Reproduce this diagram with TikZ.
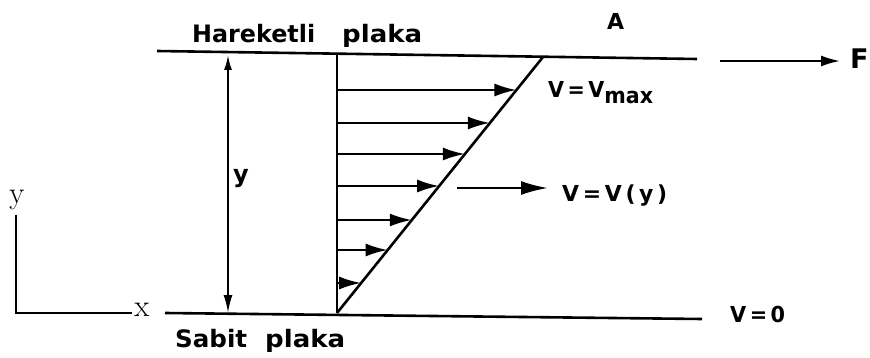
\documentclass[tikz,border=0pt]{standalone}
\usepackage{fontspec}
\usepackage{graphicx}
\usetikzlibrary{arrows.meta,calc}
\newfontfamily\labfont{DejaVu Sans}
\newcommand{\fitw}[2]{\resizebox{#1}{\height}{#2}}
\begin{document}
\begin{tikzpicture}[x=1pt,y=-1pt,
  plate/.style={line width=2.6pt},
  vel/.style={line width=2.3pt,-{Latex[length=22pt,width=13pt]}},
  lab/.style={font=\labfont\bfseries\fontsize{22}{26}\selectfont,inner sep=0pt,anchor=base west},
  biglab/.style={font=\labfont\bfseries\fontsize{24}{28}\selectfont,inner sep=0pt,anchor=base west},
  axlab/.style={font=\fontsize{31}{34}\selectfont,inner sep=0pt}]
\useasboundingbox (0,0) rectangle (870,358);
% plates and profile
\coordinate (TL) at (157,51);
\coordinate (TR) at (697,59);
\coordinate (BL) at (165,313);
\coordinate (BR) at (702,319);
\coordinate (W0) at (337,313);
\coordinate (W1) at (337,55);
\coordinate (D1) at (543,57);
\draw[plate] (TL) -- (TR);
\draw[plate] (BL) -- (BR);
\draw[plate] (W0) -- (W1);
\draw[plate] (W0) -- (D1);
% velocity arrows
\foreach \i/\yy in {1/90,2/123,3/154,4/186,5/220,6/250,7/283}{
  \coordinate (s\i) at (338,\yy);
  \coordinate (e\i) at ($(W0)!{(313-\yy)/256}!(D1)$);
  \draw[vel] (s\i) -- (e\i);
}
% free arrow V(y)
\coordinate (fa0) at (457,188);
\coordinate (fa1) at (548,188);
\draw[line width=2.3pt,-{Latex[length=27pt,width=14pt]}] (fa0) -- (fa1);
% force arrow
\coordinate (f0) at (720,61);
\node[biglab,font=\labfont\bfseries\fontsize{27}{30}\selectfont] (Fn) at (850,69) {F};
\coordinate (f1) at (840,61);
\draw[line width=2pt,-{Latex[length=19pt,width=11pt]}] (f0) -- (f1);
% gap y arrow
\coordinate (ya) at (228,55);
\coordinate (yb) at (228,313);
\draw[line width=2pt,{Latex[length=15pt,width=8pt]}-{Latex[length=18pt,width=9pt]}] (ya) -- (yb);
\node[biglab] (ylab) at (233,183) {y};
% axes
\coordinate (ay) at (16,215);
\coordinate (ao) at (16,313);
\coordinate (ax) at (132,313);
\draw[line width=2pt] (ay) -- (ao) -- (ax);
\node[axlab] (axy) at (17,200) {y};
\node[axlab] (axx) at (142,310) {x};
% labels
\node[biglab] (hk) at (192,43) {\fitw{123pt}{Hareketli}};
\node[biglab] (pk) at (342,43) {\fitw{80pt}{plaka}};
\node[biglab] (sb) at (175,347) {\fitw{72pt}{Sabit}};
\node[biglab] (sp) at (265,347) {\fitw{80pt}{plaka}};
\node[lab] (A) at (607,30) {A};
\node[lab] (vmax) at (548,98) {\fitw{105pt}{V\,=\,V\raisebox{-6pt}{max}}};
\node[lab] (vy) at (562,202) {\fitw{105pt}{V\,=\,V\,(\,y\,)}};
\node[lab] (v0) at (730,322) {\fitw{55pt}{V\,=\,0}};
\end{tikzpicture}
\end{document}
